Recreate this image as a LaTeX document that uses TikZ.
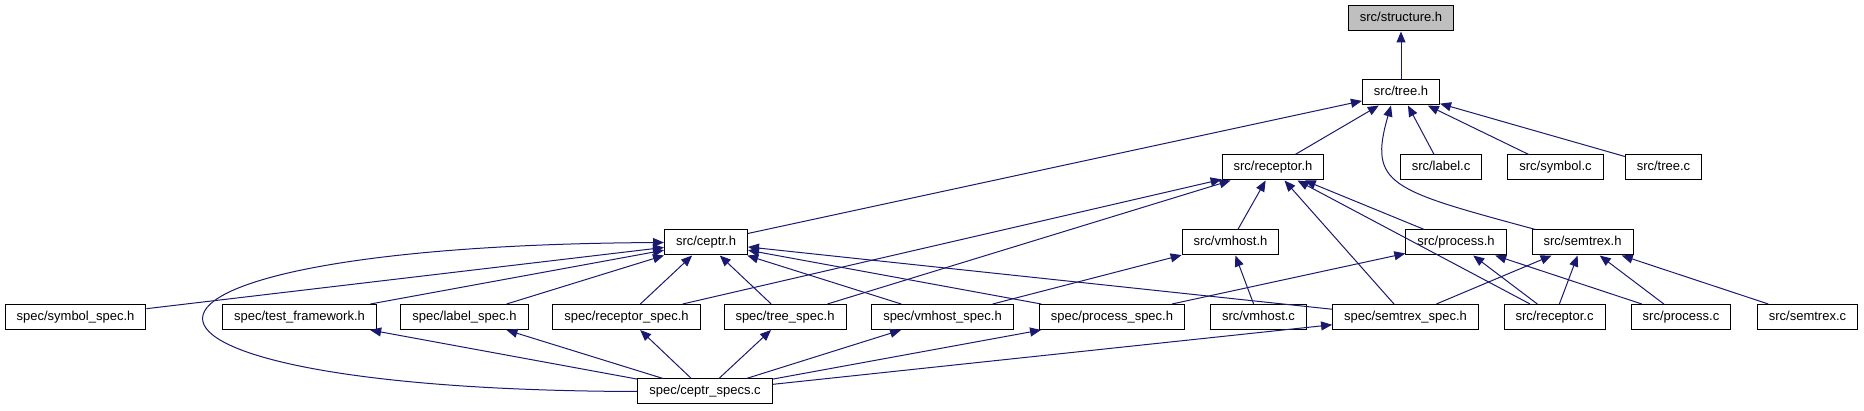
\documentclass[tikz,border=0pt]{standalone}
\usepackage{fontspec}
\setsansfont{Liberation Sans}
\usepackage{tikz}
\usetikzlibrary{arrows.meta}
\definecolor{doxBlue}{RGB}{25,25,112}
\definecolor{doxGrey}{RGB}{191,191,191}

\begin{document}
\begin{tikzpicture}[x=1pt,y=-1pt,
          hdr/.style={draw=black,fill=white,line width=1pt,minimum height=25pt,
                      inner xsep=11.5pt,inner ysep=0pt,text height=9.5pt,text depth=2.8pt,
                      font=\sffamily\fontsize{13}{15}\selectfont},
          cur/.style={hdr,fill=doxGrey},
          dep/.style={draw=doxBlue,line width=1pt,
                      arrows={Triangle[length=11pt,width=9pt]-}}]
  \useasboundingbox (0,0) rectangle (1864,411);
  % top
  \node[cur] (structure) at (1401,18.5) {src/structure.h};
  \node[hdr] (tree) at (1401,92.5) {src/tree.h};
  % row 2
  \node[hdr] (receptor) at (1273,167.5) {src/receptor.h};
  \node[hdr] (label) at (1441,167.5) {src/label.c};
  \node[hdr] (symbol) at (1555.5,167.5) {src/symbol.c};
  \node[hdr] (treec) at (1663.5,167.5) {src/tree.c};
  % row 3
  \node[hdr] (ceptr) at (706,242.5) {src/ceptr.h};
  \node[hdr] (vmhost) at (1230.5,242.5) {src/vmhost.h};
  \node[hdr] (process) at (1456,242.5) {src/process.h};
  \node[hdr] (semtrex) at (1582.5,242.5) {src/semtrex.h};
  % row 4
  \node[hdr] (symbolspec) at (75.5,317) {spec/symbol\_spec.h};
  \node[hdr] (testfw) at (299.5,317) {spec/test\_framework.h};
  \node[hdr] (labelspec) at (464.5,317) {spec/label\_spec.h};
  \node[hdr] (receptorspec) at (626.5,317) {spec/receptor\_spec.h};
  \node[hdr] (treespec) at (785,317) {spec/tree\_spec.h};
  \node[hdr] (vmhostspec) at (942.5,317) {spec/vmhost\_spec.h};
  \node[hdr] (processspec) at (1112,317) {spec/process\_spec.h};
  \node[hdr] (vmhostc) at (1258.5,317) {src/vmhost.c};
  \node[hdr] (semtrexspec) at (1405.5,317) {spec/semtrex\_spec.h};
  \node[hdr] (receptorc) at (1554.5,317) {src/receptor.c};
  \node[hdr] (processc) at (1681,317) {src/process.c};
  \node[hdr] (semtrexc) at (1807.5,317) {src/semtrex.c};
  % bottom
  \node[hdr] (specs) at (705,391.5) {spec/ceptr\_specs.c};

  % includes (tip at the included file)
  \draw[dep] (structure) -- (tree);
  \draw[dep] (tree) -- (ceptr);
  \draw[dep] (tree) -- (receptor);
  \draw[dep] (tree) -- (label);
  \draw[dep] (tree) -- (symbol);
  \draw[dep] (tree) -- (treec);
  \draw[dep] ([xshift=-10pt]tree.south) .. controls (1368,185) and (1390,190)
             .. ([xshift=4pt]semtrex.north west);
  \draw[dep] (receptor) -- (vmhost);
  \draw[dep] (receptor) -- (process);
  \draw[dep] (receptor) -- (semtrexspec);
  \draw[dep] (receptor) -- (receptorc);
  \draw[dep] (receptor) -- (receptorspec);
  \draw[dep] (receptor) -- (treespec);
  \draw[dep] (vmhost) -- (vmhostspec);
  \draw[dep] (vmhost) -- (vmhostc);
  \draw[dep] (process) -- (processspec);
  \draw[dep] (process) -- (receptorc);
  \draw[dep] (process) -- (processc);
  \draw[dep] (semtrex) -- (semtrexspec);
  \draw[dep] (semtrex) -- (receptorc);
  \draw[dep] (semtrex) -- (processc);
  \draw[dep] (semtrex) -- (semtrexc);
  \draw[dep] (ceptr) -- (symbolspec);
  \draw[dep] (ceptr) -- (testfw);
  \draw[dep] (ceptr) -- (labelspec);
  \draw[dep] (ceptr) -- (receptorspec);
  \draw[dep] (ceptr) -- (treespec);
  \draw[dep] (ceptr) -- (vmhostspec);
  \draw[dep] (ceptr) -- (processspec);
  \draw[dep] (ceptr) -- (semtrexspec);
  \draw[dep] (ceptr.west) .. controls (55,246) and (55,390) .. (specs.west);
  \draw[dep] (testfw) -- (specs);
  \draw[dep] (labelspec) -- (specs);
  \draw[dep] (receptorspec) -- (specs);
  \draw[dep] (treespec) -- (specs);
  \draw[dep] (vmhostspec) -- (specs);
  \draw[dep] (processspec) -- (specs);
  \draw[dep] (semtrexspec) -- (specs);
\end{tikzpicture}
\end{document}
